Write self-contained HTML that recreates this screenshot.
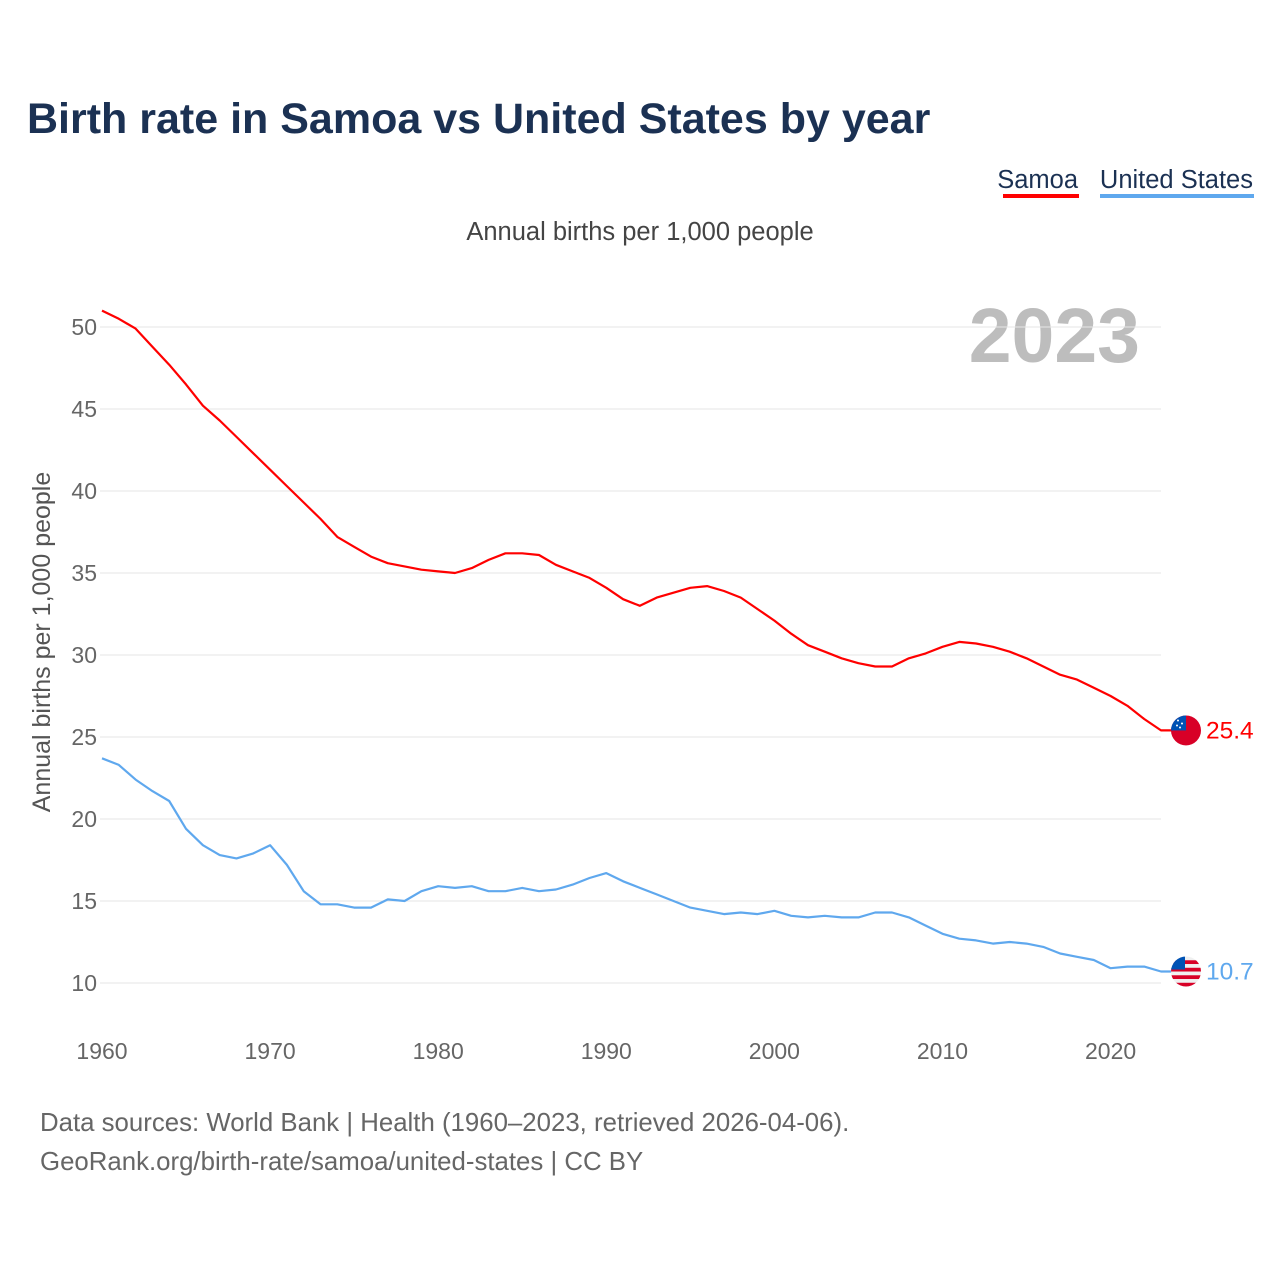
<!DOCTYPE html>
<html><head><meta charset="utf-8">
<style>
body{margin:0;background:#fff;width:1280px;height:1280px;overflow:hidden;font-family:"Liberation Sans",sans-serif;}
svg text{font-family:"Liberation Sans",sans-serif;}
</style></head>
<body>
<svg id="chart" width="1280" height="1280">
  <text x="27" y="133" font-size="43" font-weight="bold" fill="#1b3153">Birth rate in Samoa vs United States by year</text>
  <g>
    <text x="1078" y="188" text-anchor="end" font-size="25.5" fill="#1b3153">Samoa</text>
    <rect x="1003" y="194" width="76" height="4" fill="#f00"/>
  </g>
  <g>
    <text x="1253" y="188" text-anchor="end" font-size="25.5" fill="#1b3153">United States</text>
    <rect x="1100" y="194" width="154" height="4" fill="#5fa8ee"/>
  </g>
  <text x="640" y="240" text-anchor="middle" font-size="25.5" fill="#444">Annual births per 1,000 people</text>
  <text x="1140" y="362" text-anchor="end" font-size="77" font-weight="bold" fill="#bdbdbd">2023</text>
  <text transform="translate(50,642) rotate(-90)" text-anchor="middle" font-size="25" fill="#555">Annual births per 1,000 people</text>
  <g id="grid"></g>
  <g id="lines"></g>
  <text x="40" y="1131" font-size="25.8" fill="#666">Data sources: World Bank | Health (1960–2023, retrieved 2026-04-06).</text>
  <text x="40" y="1170" font-size="25.8" fill="#666">GeoRank.org/birth-rate/samoa/united-states | CC BY</text>
</svg>
<script>
const years = [];
for (let y = 1960; y <= 2023; y++) years.push(y);
const samoa = [51.0,50.5,49.9,48.8,47.7,46.5,45.2,44.3,43.3,42.3,41.3,40.3,39.3,38.3,37.2,36.6,36.0,35.6,35.4,35.2,35.1,35.0,35.3,35.8,36.2,36.2,36.1,35.5,35.1,34.7,34.1,33.4,33.0,33.5,33.8,34.1,34.2,33.9,33.5,32.8,32.1,31.3,30.6,30.2,29.8,29.5,29.3,29.3,29.8,30.1,30.5,30.8,30.7,30.5,30.2,29.8,29.3,28.8,28.5,28.0,27.5,26.9,26.1,25.4];
const usa = [23.7,23.3,22.4,21.7,21.1,19.4,18.4,17.8,17.6,17.9,18.4,17.2,15.6,14.8,14.8,14.6,14.6,15.1,15.0,15.6,15.9,15.8,15.9,15.6,15.6,15.8,15.6,15.7,16.0,16.4,16.7,16.2,15.8,15.4,15.0,14.6,14.4,14.2,14.3,14.2,14.4,14.1,14.0,14.1,14.0,14.0,14.3,14.3,14.0,13.5,13.0,12.7,12.6,12.4,12.5,12.4,12.2,11.8,11.6,11.4,10.9,11.0,11.0,10.7];
const yTicks = [10,15,20,25,30,35,40,45,50];
const xTicks = [1960,1970,1980,1990,2000,2010,2020];

const NS = "http://www.w3.org/2000/svg";
const xS = v => 102 + (v - 1960) * (1161 - 102) / 63;
const yS = v => 983 - (v - 10) * 16.4;
function mk(tag, attrs, parent) {
  const e = document.createElementNS(NS, tag);
  for (const k in attrs) e.setAttribute(k, attrs[k]);
  parent.appendChild(e);
  return e;
}
const grid = document.getElementById('grid');
yTicks.forEach(t => {
  const l = mk('line', {x1: 100, x2: 1161, y1: yS(t), y2: yS(t), stroke: '#e6e6e6', 'stroke-width': 1}, grid);
  
  
  const tx = mk('text', {x: 97, y: yS(t) + 8, 'text-anchor': 'end', 'font-size': 23, fill: '#666'}, grid);
  tx.textContent = t;
  
  
});
xTicks.forEach(t => {
  const tx = mk('text', {x: xS(t), y: 1059, 'text-anchor': 'middle', 'font-size': 23, fill: '#666'}, grid);
  tx.textContent = t;
  
  
});
const lines = document.getElementById('lines');
function series(vals, color, name) {
  const pts = vals.map((v, i) => xS(years[i]).toFixed(1) + ',' + yS(v).toFixed(1));
  const last = vals[vals.length - 1];
  pts.push('1172,' + yS(last).toFixed(1));
  const p = mk('polyline', {points: pts.join(' '), fill: 'none', stroke: color, 'stroke-width': 2.2, 'stroke-linejoin': 'round'}, lines);
  
  
  const lbl = mk('text', {x: 1206, y: yS(last) + 8, 'font-size': 24.5, fill: color}, lines);
  lbl.textContent = last.toFixed(1);
  
  
  return yS(last);
}
const ySam = series(samoa, '#f00', 'samoa');
const yUs = series(usa, '#5fa8ee', 'united-states');

// Samoa flag
const fs = mk('g', {}, lines);


const cp1 = mk('clipPath', {id: 'c1'}, fs);
mk('circle', {cx: 1186, cy: ySam, r: 15}, cp1);
const g1 = mk('g', {'clip-path': 'url(#c1)'}, fs);
mk('rect', {x: 1171, y: ySam - 15, width: 30, height: 30, fill: '#d80027'}, g1);
mk('rect', {x: 1171, y: ySam - 15, width: 15, height: 15, fill: '#0052b4'}, g1);
[[1178, -10], [1182, -7], [1177, -5], [1180, -3]].forEach(s => mk('circle', {cx: s[0], cy: ySam + s[1], r: 1, fill: '#fff'}, g1));

// US flag
const fu = mk('g', {}, lines);


const cp2 = mk('clipPath', {id: 'c2'}, fu);
mk('circle', {cx: 1186, cy: yUs, r: 15}, cp2);
const g2 = mk('g', {'clip-path': 'url(#c2)'}, fu);
mk('rect', {x: 1171, y: yUs - 15, width: 30, height: 30, fill: '#f0f0f0'}, g2);
for (let i = 0; i < 4; i++) mk('rect', {x: 1171, y: yUs - 15 + 3.75 + i * 7.5, width: 30, height: 3.75, fill: '#d80027'}, g2);
mk('rect', {x: 1171, y: yUs - 15, width: 14, height: 13, fill: '#0052b4'}, g2);
</script>
</body></html>
